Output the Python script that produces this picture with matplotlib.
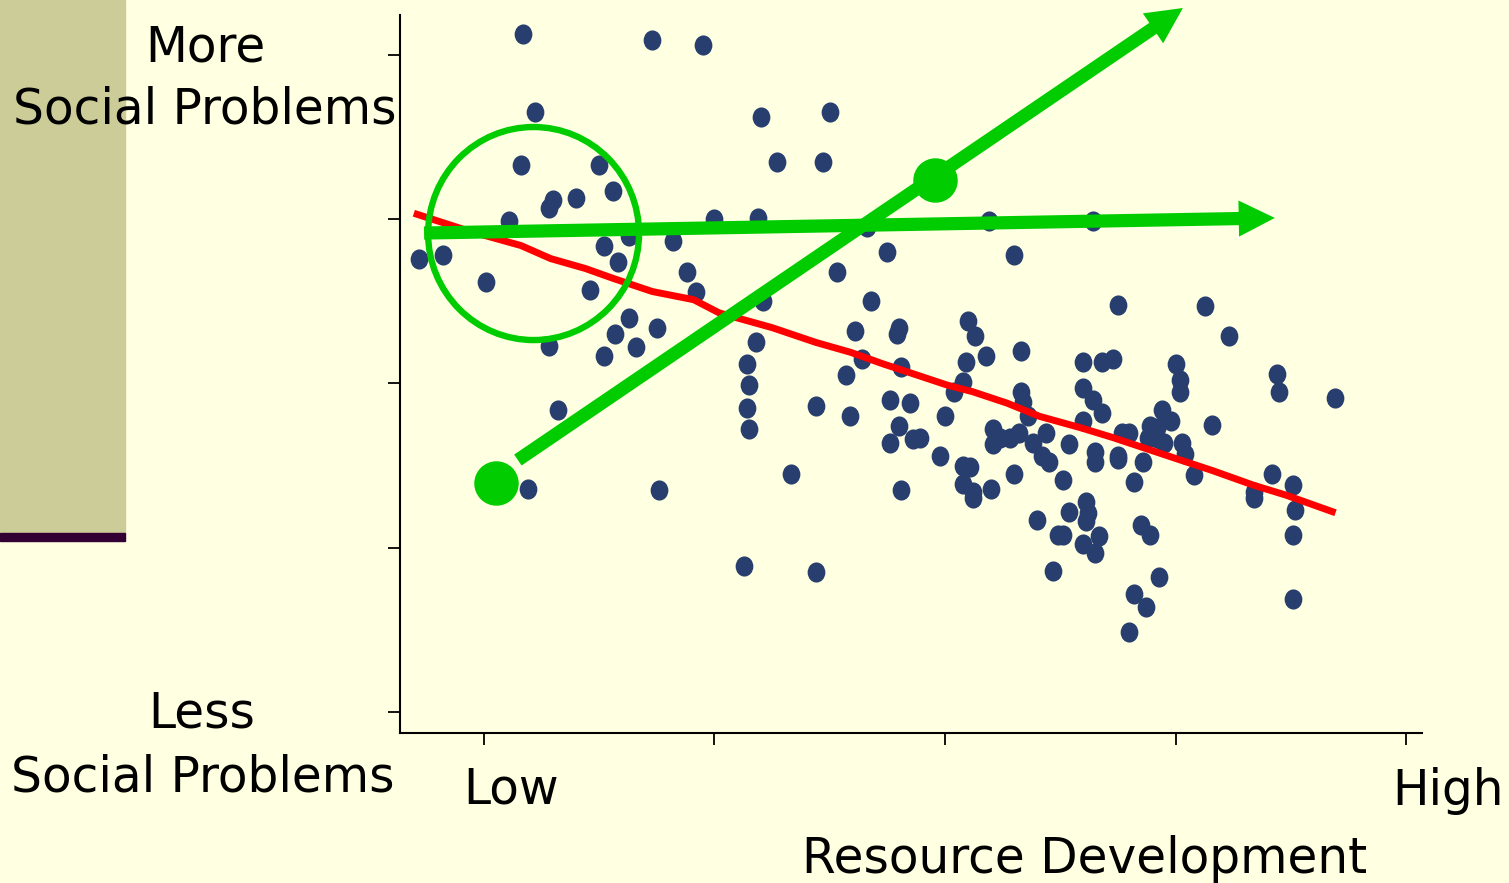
import numpy as np
import matplotlib.pyplot as plt
from matplotlib.markers import MarkerStyle
from matplotlib.transforms import Affine2D
from matplotlib.patches import Ellipse, Rectangle, FancyArrowPatch

# scatter: resource development (x) vs social problems (y), ticks at 1..5
res_dev = [1.17, 1.73, 1.95, 1.22, 2.20, 2.50, 2.27, 2.47, 1.16, 1.50,
           1.56, 1.30, 1.28, 1.40, 1.11, 2.00, 2.19, 2.66, 3.19, 3.64,
           1.63, 1.82, 1.52, 0.72, 0.82, 1.58, 2.75, 3.30, 1.01, 1.46,
           1.88, 1.92, 2.53, 2.21, 2.68, 1.63, 1.75, 1.57, 1.66, 1.52,
           1.28, 1.32, 1.19, 1.76, 3.10, 3.13, 2.80, 2.79, 2.61, 2.18,
           3.33, 3.18, 3.09, 2.64, 2.81, 2.14, 2.57, 2.15, 3.08, 3.04,
           3.60, 3.68, 3.73, 3.60, 3.33, 3.34, 3.36, 2.14, 2.44, 2.59,
           2.76, 2.85, 3.00, 2.15, 2.80, 2.76, 2.86, 2.89, 2.98, 3.21,
           3.24, 3.21, 3.28, 3.32, 3.38, 3.44, 3.42, 3.45, 3.54, 3.08,
           3.11, 3.08, 3.12, 3.30, 3.51, 2.33, 2.81, 3.20, 3.75, 4.13,
           4.23, 4.00, 4.02, 4.02, 4.44, 4.45, 4.69, 3.64, 3.68, 3.60,
           3.94, 3.98, 4.16, 3.77, 3.80, 3.89, 3.92, 3.88, 3.92, 3.95,
           4.03, 4.04, 3.65, 3.65, 3.75, 3.75, 3.86, 3.82, 4.08, 4.42,
           4.51, 4.34, 4.34, 4.52, 4.51, 4.51, 3.61, 3.62, 3.61, 3.67,
           3.60, 3.65, 3.85, 3.89, 3.93, 3.82, 3.87, 3.80, 2.13, 2.44,
           3.40, 3.51, 3.49, 3.54, 3.47, 3.12]
soc_prob = [5.13, 5.09, 5.06, 4.65, 4.62, 4.65, 4.35, 4.35, 4.33, 4.33,
            4.17, 4.12, 4.07, 4.13, 3.99, 4.00, 4.01, 3.95, 3.99, 3.99,
            3.90, 3.87, 3.84, 3.76, 3.78, 3.74, 3.80, 3.78, 3.62, 3.57,
            3.68, 3.56, 3.68, 3.50, 3.50, 3.40, 3.34, 3.30, 3.22, 3.17,
            3.23, 2.84, 2.36, 2.35, 3.38, 3.29, 3.34, 3.30, 3.32, 3.25,
            3.20, 3.17, 3.13, 3.15, 3.10, 3.12, 3.05, 2.99, 3.01, 2.95,
            3.13, 3.13, 3.15, 2.97, 2.95, 2.89, 2.80, 2.85, 2.86, 2.80,
            2.90, 2.88, 2.80, 2.72, 2.74, 2.64, 2.66, 2.67, 2.56, 2.72,
            2.67, 2.63, 2.67, 2.70, 2.64, 2.70, 2.56, 2.52, 2.63, 2.50,
            2.49, 2.39, 2.34, 2.45, 2.41, 2.45, 2.35, 2.36, 3.48, 3.47,
            3.29, 3.12, 3.02, 2.95, 3.06, 2.95, 2.91, 2.90, 2.82, 2.77,
            2.84, 2.77, 2.75, 2.70, 2.70, 2.74, 2.73, 2.67, 2.67, 2.64,
            2.64, 2.57, 2.58, 2.52, 2.56, 2.54, 2.52, 2.40, 2.44, 2.45,
            2.38, 2.34, 2.30, 2.23, 2.08, 1.69, 2.28, 2.21, 2.16, 2.07,
            2.02, 1.97, 2.14, 2.08, 1.82, 1.72, 1.64, 1.49, 1.89, 1.85,
            2.17, 2.08, 2.08, 2.22, 1.86, 2.30]

# smoothed trend (red)
trend_x = [0.71, 0.93, 1.16, 1.29, 1.44, 1.56, 1.73, 1.91, 2.02, 2.25,
           2.44, 2.59, 2.73, 2.86, 3.01, 3.12, 3.27, 3.41, 3.59, 3.73,
           3.88, 4.03, 4.16, 4.34, 4.48, 4.68]
trend_y = [4.03, 3.93, 3.84, 3.76, 3.70, 3.64, 3.56, 3.51, 3.43, 3.34,
           3.25, 3.19, 3.12, 3.06, 2.99, 2.95, 2.88, 2.80, 2.73, 2.67,
           2.60, 2.53, 2.47, 2.38, 2.32, 2.22]

# green annotations
ring_center = (1.215, 3.913)
flat_arrow = [(0.74, 3.916), (4.431, 4.008)]
rise_arrow = [(1.147, 2.534), (4.032, 5.286)]
big_dots_x = [1.052, 2.957]
big_dots_y = [2.394, 4.239]

bg = '#FFFFE1'
green = '#00CC00'
navy = '#273E6E'

W, H = 1509, 883
fig = plt.figure(figsize=(W / 100, H / 100), dpi=100, facecolor=bg)
ax = fig.add_axes([400 / W, 1 - 733 / H, 1022 / W, 718 / H])
ax.set_facecolor(bg)

fig.patches.append(Rectangle((0, 1 - 533 / H), 125 / W, 533 / H,
                             transform=fig.transFigure, color='#CCCC99', zorder=0))
fig.patches.append(Rectangle((0, 1 - 541 / H), 125 / W, 8 / H,
                             transform=fig.transFigure, color='#330033', zorder=0))

dot = MarkerStyle('o', transform=Affine2D().scale(0.88, 1.0))
ax.plot(res_dev, soc_prob, linestyle='none', marker=dot, markersize=14.5,
        color=navy, markeredgewidth=0, zorder=2)
ax.plot(trend_x, trend_y, color='#FF0000', lw=5, zorder=3)

ax.add_patch(Ellipse(ring_center, 0.915, 1.297, fill=False, ec=green, lw=4.6, zorder=4))
for (x0, y0), (x1, y1) in (flat_arrow, rise_arrow):
    ax.add_patch(FancyArrowPatch((x0, y0), (x1, y1),
                                 arrowstyle='simple,head_length=26,head_width=26,tail_width=9.5',
                                 mutation_scale=1, color=green, lw=0,
                                 shrinkA=0, shrinkB=0, zorder=5, clip_on=False))
ax.plot(big_dots_x, big_dots_y, 'o', color=green, markersize=32, markeredgewidth=0,
        zorder=6, clip_on=False)

ax.set_xlim(0.6356, 5.0694)
ax.set_ylim(0.8721, 5.2435)
ax.set_xticks([1, 2, 3, 4, 5])
ax.set_yticks([1, 2, 3, 4, 5])
ax.set_xticklabels([])
ax.set_yticklabels([])
ax.tick_params(direction='out', length=8.5, width=1.3, color='black')
for side in ('top', 'right'):
    ax.spines[side].set_visible(False)
for side in ('left', 'bottom'):
    ax.spines[side].set_linewidth(1.5)

font = dict(family='DejaVu Sans', size=35, color='black', va='baseline', ha='center')
fig.text(205 / W, 1 - 61 / H, 'More', **font)
fig.text(205 / W, 1 - 123 / H, 'Social Problems', **font)
fig.text(202 / W, 1 - 728 / H, 'Less', **font)
fig.text(203 / W, 1 - 792 / H, 'Social Problems', **font)
fig.text(511 / W, 1 - 803 / H, 'Low', **font)
fig.text(1448 / W, 1 - 805 / H, 'High', **font)
fig.text(1085 / W, 1 - 873 / H, 'Resource Development', **font)

fig.savefig('out.png', dpi=100, facecolor=bg)
